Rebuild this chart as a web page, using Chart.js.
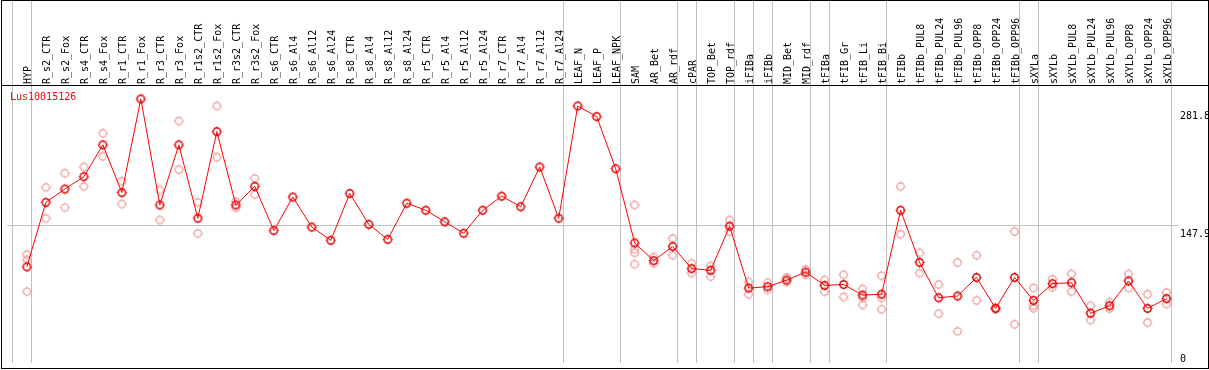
<!DOCTYPE html>
<html>
<head>
<meta charset="utf-8">
<script src="https://cdn.jsdelivr.net/npm/chart.js@4.4.0/dist/chart.umd.min.js"></script>
<style>
  html, body { margin: 0; padding: 0; background: #fff; }
  canvas { display: block; }
</style>
</head>
<body>
<canvas id="lineChart" width="1209" height="370"></canvas>
<script>
// data
const geneLabel = 'Lus10015126';

const categories = [
  'HYP', 'R_s2_CTR', 'R_s2_Fox', 'R_s4_CTR', 'R_s4_Fox', 'R_r1_CTR', 'R_r1_Fox', 'R_r3_CTR', 'R_r3_Fox',
  'R_r1s2_CTR', 'R_r1s2_Fox', 'R_r3s2_CTR', 'R_r3s2_Fox', 'R_s6_CTR', 'R_s6_Al4', 'R_s6_Al12', 'R_s6_Al24',
  'R_s8_CTR', 'R_s8_Al4', 'R_s8_Al12', 'R_s8_Al24', 'R_r5_CTR', 'R_r5_Al4', 'R_r5_Al12', 'R_r5_Al24',
  'R_r7_CTR', 'R_r7_Al4', 'R_r7_Al12', 'R_r7_Al24', 'LEAF_N', 'LEAF_P', 'LEAF_NPK', 'SAM', 'AR_Bet', 'AR_rdf',
  'cPAR', 'TOP_Bet', 'TOP_rdf', 'iFIBa', 'iFIBb', 'MID_Bet', 'MID_rdf', 'tFIBa', 'tFIB_Gr', 'tFIB_Li', 'tFIB_Bi',
  'tFIBb', 'tFIBb_PUL8', 'tFIBb_PUL24', 'tFIBb_PUL96', 'tFIBb_OPP8', 'tFIBb_OPP24', 'tFIBb_OPP96',
  'sXYLa', 'sXYLb', 'sXYLb_PUL8', 'sXYLb_PUL24', 'sXYLb_PUL96', 'sXYLb_OPP8', 'sXYLb_OPP24', 'sXYLb_OPP96'
];

const meanValues = [
  101, 174, 189, 203, 239, 185, 291, 171, 239, 156, 254, 171, 192, 142, 180, 146, 131,
  184, 149, 132, 173, 165, 152, 139, 165, 181, 169, 214, 156, 283, 271, 212, 128, 108, 124,
  99, 97, 147, 77, 78.5, 86, 95, 80, 81, 69, 70, 165, 106, 66, 68, 89, 54, 89,
  63, 82, 83, 48.5, 57, 85, 54, 65
];

const N = null;
const repA = [
  115, 191, 207, 214, 252, 198, N, 188, 266, 174, 283, 175, 201, N, N, N, N,
  N, N, N, N, N, N, N, N, N, N, N, N, N, N, N, 171, 112, 133,
  105, 102, 154, 84, 83, 89, 98, 86, 92, 76, 91, 192, 117, 81, 106, 114, 55, 141,
  77, 87, 93, 57, 61, 93, 70, 72
];
const repB = [
  109, 156, 168, 192, 226, 172, N, 154, 211, 139, 225, 168, 183, N, N, N, N,
  N, N, N, N, N, N, N, N, N, N, N, N, N, N, N, 121, 105, 114,
  94, 90, 141, 70, 75, 84, 92, 73, 67, 66, 66, 138, 94, 48, 28, 63, 53, 36,
  57, 78, 73, 41, 54, 77, 38, 59
];
const repC = [
  73, N, N, N, N, N, N, N, N, N, N, N, N, N, N, N, N,
  N, N, N, N, N, N, N, N, N, N, N, N, N, N, N, 117, N, N,
  N, N, N, N, N, N, N, N, N, 58, 53, N, N, N, N, N, N, N,
  54, N, N, N, N, N, N, N
];
const repD = [
  N, N, N, N, N, N, N, N, N, N, N, N, N, N, N, N, N,
  N, N, N, N, N, N, N, N, N, N, N, N, N, N, N, 104, N, N,
  N, N, N, N, N, N, N, N, N, N, N, N, N, N, N, N, N, N,
  N, N, N, N, N, N, N, N
];

const yTickValues = [0, 147.9, 281.8];
// last category index of each sample group
const groupEnds = [-1, 0, 28, 31, 34, 35, 37, 38, 39, 41, 42, 45, 52, 53, 60];

const monoFont = { family: 'DejaVu Sans Mono', size: 10 };

// small ring marker with four short spikes
const makeMarker = (color, width) => {
  const c = document.createElement('canvas');
  c.width = 13; c.height = 13;
  const g = c.getContext('2d');
  g.strokeStyle = color;
  g.fillStyle = color;
  g.lineWidth = width;
  g.beginPath();
  g.arc(6.5, 6.5, 3.7, 0, Math.PI * 2);
  g.stroke();
  g.fillRect(6, 1.5, 1, 1);
  g.fillRect(6, 10.5, 1, 1);
  g.fillRect(1.5, 6, 1, 1);
  g.fillRect(10.5, 6, 1, 1);
  return c;
};

const toPoints = arr => arr.map((v, i) => ({ x: i, y: v }));

const repDataset = arr => ({
  data: toPoints(arr),
  showLine: false,
  pointStyle: makeMarker('#ef9797', 1.2),
  pointRadius: 6,
  order: 2
});

const framePlugin = {
  id: 'frame',
  beforeDatasetsDraw(chart) {
    const { ctx, scales: { x }, chartArea } = chart;
    ctx.save();
    ctx.strokeStyle = '#c0c0c0';
    ctx.lineWidth = 1;
    groupEnds.forEach(i => {
      const px = Math.round(x.getPixelForValue(i)) + 4.5;
      ctx.beginPath();
      ctx.moveTo(px, 0);
      ctx.lineTo(px, chartArea.bottom);
      ctx.stroke();
    });
    ctx.restore();
  },
  afterDraw(chart) {
    const { ctx } = chart;
    ctx.save();
    ctx.strokeStyle = '#000';
    ctx.lineWidth = 1;
    ctx.strokeRect(1.5, 0.5, 1207, 368);
    ctx.beginPath();
    ctx.moveTo(1.5, 85.5);
    ctx.lineTo(1208.5, 85.5);
    ctx.stroke();
    ctx.fillStyle = '#ff0000';
    ctx.font = '10px "DejaVu Sans Mono"';
    ctx.textBaseline = 'middle';
    ctx.fillText(geneLabel, 10, 97.5);
    ctx.restore();
  }
};

new Chart(document.getElementById('lineChart').getContext('2d'), {
  type: 'line',
  data: {
    datasets: [
      {
        data: toPoints(meanValues),
        borderColor: '#ff0000',
        borderWidth: 1,
        pointStyle: makeMarker('#e60000', 1.5),
        pointRadius: 6,
        order: 1
      },
      repDataset(repA),
      repDataset(repB),
      repDataset(repC),
      repDataset(repD)
    ]
  },
  options: {
    responsive: false,
    animation: false,
    events: [],
    layout: { padding: { left: 2, right: 0, top: 0, bottom: 2 } },
    plugins: {
      legend: { display: false },
      tooltip: { enabled: false }
    },
    scales: {
      x: {
        type: 'linear',
        position: 'top',
        min: -1.047,
        max: 60.605,
        afterBuildTicks: s => { s.ticks = categories.map((c, i) => ({ value: i })); },
        afterFit: s => { s.height = 86; s.paddingLeft = 0; s.paddingRight = 0; },
        grid: { display: false, drawTicks: false },
        border: { display: false },
        ticks: {
          autoSkip: false,
          minRotation: 90,
          maxRotation: 90,
          padding: 2,
          labelOffset: 14,
          color: '#000',
          font: monoFont,
          callback: v => categories[v]
        }
      },
      y: {
        type: 'linear',
        position: 'right',
        min: -7.8,
        max: 305.6,
        afterBuildTicks: s => { s.ticks = yTickValues.map(v => ({ value: v })); },
        afterFit: s => { s.width = 31; s.paddingTop = 0; s.paddingBottom = 0; },
        grid: {
          drawTicks: false,
          color: c => (c.tick && c.tick.value === 147.9 ? '#c0c0c0' : 'rgba(0,0,0,0)')
        },
        border: { display: false },
        ticks: {
          padding: 2,
          labelOffset: 9,
          color: '#000',
          font: monoFont,
          callback: v => (v === 0 ? ['0', ''] : String(v))
        }
      }
    }
  },
  plugins: [framePlugin]
});
</script>
</body>
</html>
